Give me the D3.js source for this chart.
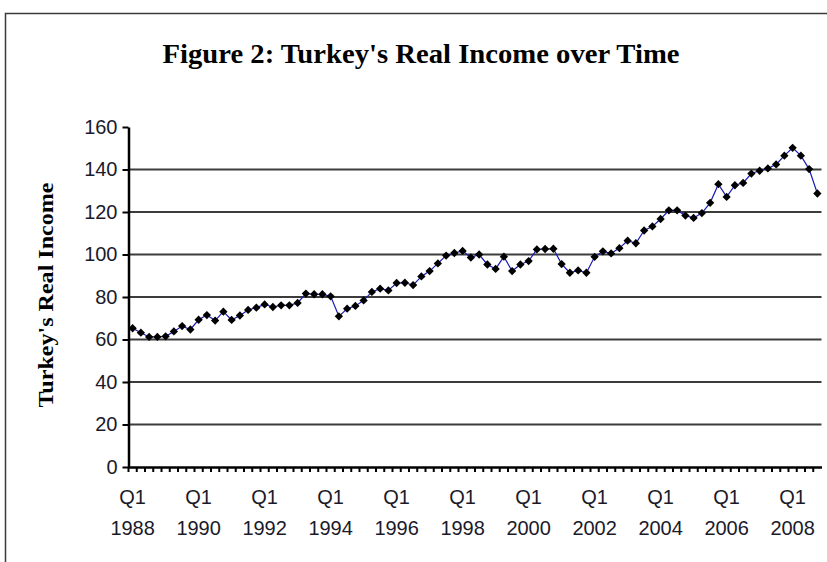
<!DOCTYPE html>
<html>
<head>
<meta charset="utf-8">
<script src="https://cdn.jsdelivr.net/npm/d3@7"></script>
<style>
body { margin: 0; background: #fff; }
svg { display: block; }
</style>
</head>
<body>
<div id="chart"></div>
<script>
let years = [1988, 1989, 1990, 1991, 1992, 1993, 1994, 1995, 1996, 1997, 1998,
             1999, 2000, 2001, 2002, 2003, 2004, 2005, 2006, 2007, 2008];
let quarters = ['Q1', 'Q2', 'Q3', 'Q4'];

// real income, one value per quarter, 1988 Q1 .. 2008 Q4
let income = [
    65.3, 63.2, 61.2, 61.2, 61.5, 63.8, 66.3, 64.7,
    69.3, 71.5, 68.9, 73.1, 69.2, 71.3, 73.9, 75.0,
    76.5, 75.3, 76.1, 76.1, 77.2, 81.6, 81.3, 81.3,
    80.3, 70.9, 74.5, 75.8, 78.4, 82.4, 83.9, 83.1,
    86.6, 86.7, 85.6, 89.7, 92.2, 95.8, 99.5, 100.7,
    101.7, 98.6, 100.0, 95.3, 93.2, 99.0, 92.2, 95.3,
    96.9, 102.4, 102.6, 102.7, 95.5, 91.4, 92.5, 91.4,
    98.9, 101.5, 100.5, 103.0, 106.5, 105.3, 111.3, 113.2,
    116.7, 120.8, 120.8, 118.3, 117.2, 119.5, 124.3, 133.1,
    127.1, 132.6, 133.7, 138.1, 139.4, 140.5, 142.4, 146.5,
    150.2, 146.5, 140.2, 128.7
];
let yTicks = [0, 20, 40, 60, 80, 100, 120, 140, 160];

let categories = [];
years.forEach(function(yr){
    quarters.forEach(function(q){
        categories.push({q: q, year: yr});
    });
});
let points = income.map(function(v, i){
    return {i: i, q: categories[i].q, year: categories[i].year, value: v};
});

let width = 827, height = 562;
let svg = d3.select('#chart').append('svg')
    .attr('width', width)
    .attr('height', height);

// outer frame
svg.append('rect')
    .attr('x', 5.5)
    .attr('y', 13.5)
    .attr('width', 840)
    .attr('height', 600)
    .attr('fill', 'white')
    .attr('stroke', '#3a3a3a')
    .attr('stroke-width', 1.5);

let x = d3.scaleBand()
    .domain(d3.range(points.length))
    .range([128.5, 821.5]);
let y = d3.scaleLinear()
    .domain([0, 160])
    .range([467, 127]);

// gridlines
svg.append('g')
    .attr('id', 'grid')
    .selectAll('line')
    .data(yTicks.filter(d => d > 0 && d < 160))
    .enter()
    .append('line')
    .attr('x1', 128.5)
    .attr('x2', 821.5)
    .attr('y1', d => y(d))
    .attr('y2', d => y(d))
    .attr('stroke', '#3c3c3c')
    .attr('stroke-width', 2);

// y axis
let yAxis = svg.append('g')
    .attr('transform', 'translate(128.5,0)')
    .call(d3.axisLeft(y).tickValues(yTicks).tickSize(6).tickPadding(5).tickSizeOuter(0));
yAxis.select('.domain').attr('stroke', '#000').attr('stroke-width', 2.5);
yAxis.selectAll('.tick line').attr('stroke', '#000').attr('stroke-width', 2);
yAxis.selectAll('.tick text')
    .attr('fill', '#1a1a2a')
    .style('font-family', 'Liberation Sans, Arial, sans-serif')
    .style('font-size', '20px');

// x axis, ticks between categories
let xAxis = svg.append('g')
    .attr('transform', 'translate(0,467)')
    .call(d3.axisBottom(x).tickSize(5).tickSizeOuter(0).tickFormat(''));
xAxis.select('.domain').attr('stroke', '#000').attr('stroke-width', 2.5);
xAxis.selectAll('.tick line')
    .attr('transform', 'translate(' + (-x.bandwidth() / 2) + ',0)')
    .attr('stroke', '#000')
    .attr('stroke-width', 2);

let labels = svg.append('g')
    .attr('id', 'xLabels')
    .attr('text-anchor', 'middle')
    .style('font-family', 'Liberation Sans, Arial, sans-serif')
    .style('font-size', '20px')
    .attr('fill', '#1a1a2a');
labels.selectAll('g')
    .data(points.filter(d => d.i % 8 === 0))
    .enter()
    .append('g')
    .attr('transform', d => 'translate(' + (x(d.i) + x.bandwidth() / 2) + ',0)')
    .each(function(d){
        d3.select(this).append('text').attr('y', 504).text(d.q);
        d3.select(this).append('text').attr('y', 535).text(d.year);
    });

// series
let line = d3.line()
    .x(d => x(d.i) + x.bandwidth() / 2)
    .y(d => y(d.value));
svg.append('path')
    .datum(points)
    .attr('d', line)
    .attr('fill', 'none')
    .attr('stroke', '#1a1ab4')
    .attr('stroke-width', 1.2);

svg.append('g')
    .attr('id', 'markers')
    .selectAll('path')
    .data(points)
    .enter()
    .append('path')
    .attr('d', d3.symbol().type(d3.symbolDiamond2).size(44))
    .attr('transform', d => 'translate(' + (x(d.i) + x.bandwidth() / 2) + ',' + y(d.value) + ')')
    .attr('fill', '#000');

// titles
svg.append('text')
    .attr('x', 421)
    .attr('y', 63)
    .attr('text-anchor', 'middle')
    .attr('textLength', 517)
    .attr('lengthAdjust', 'spacingAndGlyphs')
    .style('font-family', 'Liberation Serif, Times New Roman, serif')
    .style('font-weight', 'bold')
    .style('font-size', '27px')
    .attr('fill', '#000')
    .text("Figure 2: Turkey's Real Income over Time");

svg.append('text')
    .attr('transform', 'translate(53,295) rotate(-90)')
    .attr('text-anchor', 'middle')
    .attr('textLength', 225)
    .attr('lengthAdjust', 'spacingAndGlyphs')
    .style('font-family', 'Liberation Serif, Times New Roman, serif')
    .style('font-weight', 'bold')
    .style('font-size', '20px')
    .attr('fill', '#000')
    .text("Turkey's Real Income");
</script>
</body>
</html>
